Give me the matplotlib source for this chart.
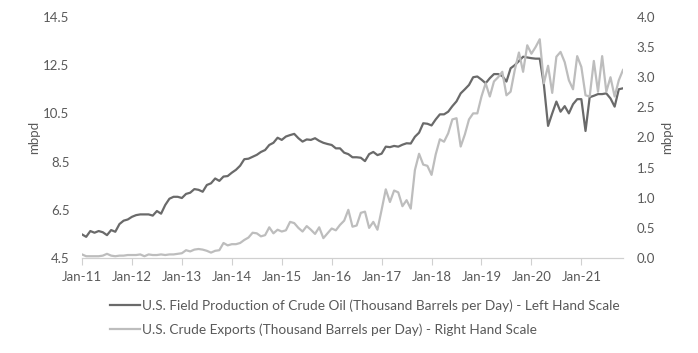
import matplotlib
matplotlib.use("Agg")
import matplotlib.pyplot as plt
import numpy as np

plt.rcParams['font.family'] = ['Lato', 'DejaVu Sans']

# monthly values, Jan-2011 .. Nov-2021 (mbpd)
production = [
    5.48, 5.38, 5.62, 5.55, 5.62, 5.57, 5.45, 5.66, 5.59, 5.91, 6.05, 6.10,
    6.21, 6.28, 6.31, 6.31, 6.31, 6.26, 6.45, 6.34, 6.70, 6.96, 7.04, 7.04,
    6.99, 7.16, 7.21, 7.36, 7.33, 7.25, 7.53, 7.60, 7.80, 7.70, 7.88, 7.90,
    8.04, 8.16, 8.33, 8.60, 8.62, 8.70, 8.78, 8.90, 8.98, 9.19, 9.28, 9.49,
    9.40, 9.54, 9.60, 9.65, 9.47, 9.33, 9.42, 9.40, 9.47, 9.36, 9.28, 9.23,
    9.19, 9.05, 9.05, 8.87, 8.81, 8.68, 8.68, 8.66, 8.52, 8.81, 8.90, 8.77,
    8.83, 9.12, 9.10, 9.15, 9.12, 9.20, 9.26, 9.25, 9.53, 9.70, 10.09, 10.07,
    10.00, 10.25, 10.46, 10.46, 10.57, 10.80, 11.00, 11.33, 11.50, 11.68, 12.00, 12.03,
    11.90, 11.75, 11.96, 12.13, 12.13, 12.05, 11.82, 12.37, 12.50, 12.67, 12.85, 12.82,
    12.79, 12.77, 12.77, 11.68, 9.98, 10.50, 10.99, 10.57, 10.80, 10.50, 10.88, 11.09,
    11.09, 9.77, 11.17, 11.23, 11.30, 11.30, 11.33, 11.12, 10.78, 11.50, 11.54,
]
exports = [
    0.06, 0.03, 0.03, 0.03, 0.03, 0.04, 0.07, 0.04, 0.03, 0.04, 0.04, 0.05,
    0.05, 0.05, 0.06, 0.03, 0.06, 0.05, 0.05, 0.06, 0.05, 0.06, 0.06, 0.07,
    0.08, 0.13, 0.11, 0.14, 0.15, 0.14, 0.12, 0.09, 0.12, 0.13, 0.25, 0.21,
    0.23, 0.23, 0.25, 0.30, 0.34, 0.42, 0.41, 0.36, 0.38, 0.51, 0.41, 0.47,
    0.44, 0.46, 0.60, 0.58, 0.50, 0.44, 0.53, 0.47, 0.40, 0.51, 0.33, 0.41,
    0.49, 0.46, 0.55, 0.62, 0.80, 0.52, 0.54, 0.75, 0.77, 0.50, 0.60, 0.47,
    0.80, 1.14, 0.93, 1.12, 1.09, 0.86, 0.96, 0.82, 1.46, 1.73, 1.55, 1.53,
    1.38, 1.72, 1.97, 1.93, 2.07, 2.30, 2.32, 1.85, 2.05, 2.30, 2.40, 2.40,
    2.68, 2.90, 2.68, 2.93, 3.00, 3.09, 2.70, 2.76, 3.12, 3.41, 3.09, 3.53,
    3.39, 3.50, 3.63, 2.90, 3.19, 2.74, 3.34, 3.42, 3.25, 2.95, 2.80, 3.35,
    3.17, 2.70, 2.68, 3.27, 2.76, 3.35, 2.76, 3.00, 2.68, 2.95, 3.12,
]
year_labels = ['Jan-11', 'Jan-12', 'Jan-13', 'Jan-14', 'Jan-15', 'Jan-16',
               'Jan-17', 'Jan-18', 'Jan-19', 'Jan-20', 'Jan-21']
left_ticks = [4.5, 6.5, 8.5, 10.5, 12.5, 14.5]
right_ticks = [0.0, 0.5, 1.0, 1.5, 2.0, 2.5, 3.0, 3.5, 4.0]

label1 = 'U.S. Field Production of Crude Oil (Thousand Barrels per Day) - Left Hand Scale'
label2 = 'U.S. Crude Exports (Thousand Barrels per Day) - Right Hand Scale'

dark = '#6a6a6a'
light = '#bdbdbd'
txt = '#595959'

months = np.arange(len(production))

fig = plt.figure(figsize=(6.98, 3.53), dpi=100)
ax = fig.add_axes([0.1175, 0.269, 0.775, 0.683])
ax2 = ax.twinx()

l1, = ax.plot(months, production, color=dark, lw=1.6)
l2, = ax2.plot(months, exports, color=light, lw=1.6)

ax.set_xlim(0, len(production) - 1)
ax.set_ylim(4.5, 14.5)
ax.set_yticks(left_ticks)
ax.set_yticklabels([f'{v:.1f}' for v in left_ticks])
ax2.set_ylim(0, 4.0)
ax2.set_yticks(right_ticks)
ax2.set_yticklabels([f'{v:.1f}' for v in right_ticks])

ax.set_xticks(np.arange(0, len(production), 12))
ax.set_xticklabels(year_labels)

for a in (ax, ax2):
    for s in ('top', 'left', 'right'):
        a.spines[s].set_visible(False)
    a.spines['bottom'].set_color('#d0d0d0')
ax.tick_params(axis='x', colors='#d0d0d0', length=5, width=0.8, labelcolor=txt,
               labelsize=9.5, pad=4)
ax.tick_params(axis='y', length=0, labelcolor=txt, labelsize=9.5, pad=9)
ax2.tick_params(axis='y', length=0, labelcolor=txt, labelsize=9.5, pad=10)

ax.set_ylabel('mbpd', color=txt, fontsize=9.5, labelpad=2)
ax2.set_ylabel('mbpd', color=txt, fontsize=9.5, labelpad=4)

fig.legend([l1, l2], [label1, label2], loc='upper left',
           bbox_to_anchor=(0.157, 0.153), frameon=False, fontsize=9.8,
           labelcolor=txt, handlelength=2.2, handletextpad=0.15,
           labelspacing=0.85, borderpad=0, borderaxespad=0)

fig.savefig('out.png', dpi=100)
